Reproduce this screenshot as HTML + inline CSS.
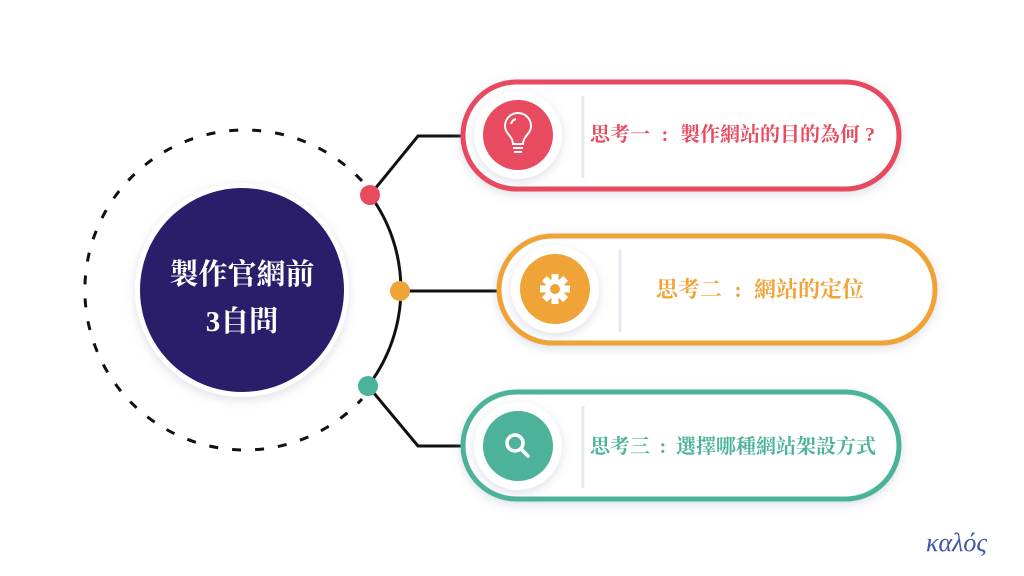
<!DOCTYPE html>
<html><head><meta charset="utf-8"><style>
body{margin:0;width:1024px;height:576px;background:#fff;overflow:hidden;position:relative;font-family:"Liberation Serif","Noto Serif CJK SC",serif}
.t{position:absolute;font-weight:bold;font-size:20px;white-space:nowrap;line-height:22px}
</style></head><body>
<svg width="1024" height="576" style="position:absolute;left:0;top:0">
<defs>
<filter id="sh" x="-30%" y="-30%" width="160%" height="160%"><feDropShadow dx="0" dy="3" stdDeviation="5" flood-color="#9aa6bd" flood-opacity="0.35"/></filter>
</defs>
<path d="M362 181 A160 160 0 1 0 362 399" fill="none" stroke="#111" stroke-width="3" stroke-dasharray="9 14"/>
<path d="M370 195 A159 159 0 0 1 368 386" fill="none" stroke="#111" stroke-width="3"/>
<polyline points="370,195 418,136 465,136" fill="none" stroke="#111" stroke-width="3"/>
<line x1="400" y1="291" x2="500" y2="291" stroke="#111" stroke-width="3"/>
<polyline points="368,386 418,446 465,446" fill="none" stroke="#111" stroke-width="3"/>
<circle cx="370" cy="195" r="10" fill="#e84a5f"/>
<circle cx="400" cy="291" r="10" fill="#f0a336"/>
<circle cx="368" cy="386" r="10" fill="#4cb39a"/>
<circle cx="242" cy="290" r="107" fill="#fff" filter="url(#sh)"/>
<circle cx="242" cy="290" r="102" fill="#2a1e6b"/>
<rect x="463" y="82" width="436" height="107" rx="53.5" fill="#fff" stroke="#e84a5f" stroke-width="5" filter="url(#sh)"/>
<rect x="499" y="236" width="436" height="107" rx="53.5" fill="#fff" stroke="#f0a336" stroke-width="5" filter="url(#sh)"/>
<rect x="463" y="392" width="436" height="107" rx="53.5" fill="#fff" stroke="#4cb39a" stroke-width="5" filter="url(#sh)"/>
<line x1="583" y1="96" x2="583" y2="178" stroke="#e6eaf0" stroke-width="3"/>
<line x1="620" y1="250" x2="620" y2="332" stroke="#e6eaf0" stroke-width="3"/>
<line x1="583" y1="406" x2="583" y2="488" stroke="#e6eaf0" stroke-width="3"/>
<circle cx="518" cy="135" r="44" fill="#fff" filter="url(#sh)"/>
<circle cx="518" cy="135" r="35" fill="#e84a5f"/>
<circle cx="555" cy="289" r="44" fill="#fff" filter="url(#sh)"/>
<circle cx="555" cy="289" r="35" fill="#f0a336"/>
<circle cx="518" cy="446" r="44" fill="#fff" filter="url(#sh)"/>
<circle cx="518" cy="446" r="35" fill="#4cb39a"/>
<g fill="none" stroke="#fff" stroke-width="2">
<path d="M513 144 C513 136 505 134 505 126 A13 13 0 0 1 531 126 C531 134 523 136 523 144 Z"/>
<line x1="513" y1="148" x2="523" y2="148"/><line x1="514" y1="152" x2="522" y2="152"/>
<path d="M511 124 A7 7 0 0 1 516 119"/>
</g>
<g fill="#fff" transform="translate(555 289)">
<circle r="10"/>
<g id="tooth"><rect x="-3.5" y="-15" width="7" height="8"/></g>
<use href="#tooth" transform="rotate(45)"/><use href="#tooth" transform="rotate(90)"/><use href="#tooth" transform="rotate(135)"/>
<use href="#tooth" transform="rotate(180)"/><use href="#tooth" transform="rotate(225)"/><use href="#tooth" transform="rotate(270)"/><use href="#tooth" transform="rotate(315)"/>
<circle r="5" fill="#f0a336"/>
</g>
<g fill="none" stroke="#fff" stroke-width="3.5" stroke-linecap="round">
<circle cx="515" cy="443" r="8"/><line x1="521" y1="449" x2="528" y2="456"/>
</g>
</svg>
<div class="t" style="left:166px;top:252px;width:152px;text-align:center;color:#fff;font-size:29px;line-height:47px">製作官網前<br>3自問</div>
<div class="t" style="left:590px;top:124px;color:#e84a5f">思考一<span style="display:inline-block;width:30px;text-align:center">:</span>製作網站的目的為何 ?</div>
<div class="t" style="left:656px;top:278px;color:#f0a336;font-size:22px;line-height:24px">思考二<span style="display:inline-block;width:32px;text-align:center">:</span>網站的定位</div>
<div class="t" style="left:590px;top:436px;color:#4cb39a">思考三<span style="display:inline-block;width:26px;text-align:center">:</span>選擇哪種網站架設方式</div>
<div class="t" style="left:926px;top:528px;color:#3b55a8;font-style:italic;font-weight:normal;font-size:26px;line-height:30px">καλός</div>
</body></html>
